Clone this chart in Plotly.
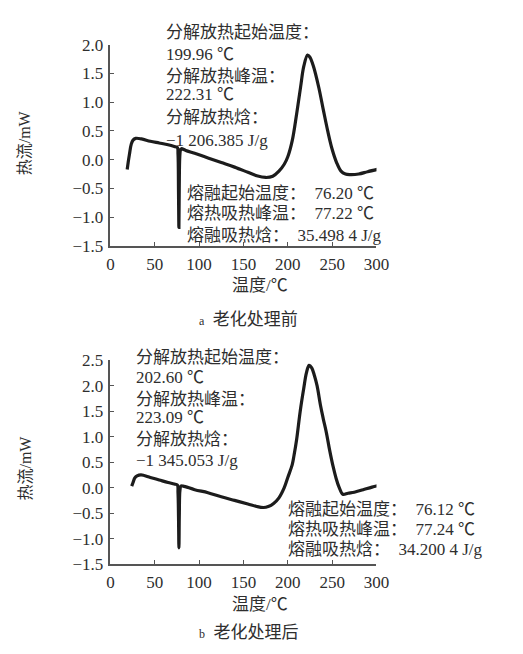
import plotly.graph_objects as go

# ---------------- data ----------------
temp_a = [18.9, 20, 21.5, 23.5, 25.5, 28.5, 35, 45, 55, 65, 72, 75.5, 76.2, 76.8, 77.22,
          77.6, 78.2, 79, 80, 85, 95, 110, 125, 140, 155, 165, 175, 183, 190, 196, 200,
          205, 210, 214.5, 218, 222.3, 225, 229, 235, 240, 245, 250, 255, 260, 265, 270,
          280, 290, 301]
flow_a = [-0.17, -0.05, 0.1, 0.27, 0.34, 0.37, 0.36, 0.32, 0.29, 0.26, 0.23, 0.21, 0.1,
          -0.6, -1.18, -0.5, 0.05, 0.17, 0.19, 0.16, 0.11, 0.03, -0.05, -0.13, -0.22,
          -0.28, -0.31, -0.29, -0.2, -0.08, 0.05, 0.33, 0.8, 1.27, 1.62, 1.82, 1.78, 1.62,
          1.25, 0.87, 0.5, 0.18, -0.05, -0.2, -0.25, -0.26, -0.25, -0.21, -0.17]

temp_b = [24, 25.5, 27.5, 30, 34.5, 45, 55, 65, 72, 75.5, 76.2, 76.8, 77.24, 77.7, 78.4,
          79.5, 82, 95, 110, 125, 140, 155, 165, 172.7, 178, 184, 190, 196, 200, 205, 207,
          210, 214, 218, 221, 224, 227, 230, 233, 237, 240, 243.6, 247, 251, 254.5, 258,
          262, 268, 275, 285, 295, 302]
flow_b = [0.03, 0.1, 0.19, 0.23, 0.25, 0.2, 0.15, 0.1, 0.07, 0.05, -0.1, -0.6, -1.18, -0.5,
          -0.05, 0.03, 0.03, -0.04, -0.1, -0.18, -0.25, -0.32, -0.37, -0.39, -0.37, -0.31,
          -0.2, 0.0, 0.2, 0.45, 0.63, 0.95, 1.5, 1.95, 2.25, 2.4, 2.35, 2.2, 2.0, 1.6, 1.35,
          1.07, 0.75, 0.42, 0.18, 0.0, -0.13, -0.11, -0.09, -0.04, 0.01, 0.04]

x_ticks = [0, 50, 100, 150, 200, 250, 300]
y_ticks_a = [-1.5, -1.0, -0.5, 0.0, 0.5, 1.0, 1.5, 2.0]
y_ticks_b = [-1.5, -1.0, -0.5, 0.0, 0.5, 1.0, 1.5, 2.0, 2.5]

x_title = "温度/℃"
y_title = "热流/mW"
sub_a = "<span style='font-size:12px'>a</span>  老化处理前"
sub_b = "<span style='font-size:12px'>b</span>  老化处理后"

notes_a_top = ["分解放热起始温度：", "199.96 ℃", "分解放热峰温：", "222.31 ℃",
               "分解放热焓：", "−1 206.385 J/g"]
notes_a_low = ["熔融起始温度：  76.20 ℃", "熔热吸热峰温：  77.22 ℃", "熔融吸热焓：  35.498 4 J/g"]
notes_b_top = ["分解放热起始温度：", "202.60 ℃", "分解放热峰温：", "223.09 ℃",
               "分解放热焓：", "−1 345.053 J/g"]
notes_b_low = ["熔融起始温度：  76.12 ℃", "熔热吸热峰温：  77.24 ℃", "熔融吸热焓：  34.200 4 J/g"]

# ---------------- layout helpers ----------------
W, H = 523, 654
FONT = "Liberation Serif, Noto Sans CJK SC, serif"
TXT = "#2e2e2e"
LINE = "#1c1c1c"

def px(x):
    return x / W

def py(y):
    return 1 - y / H

fig = go.Figure()
fig.add_trace(go.Scatter(x=temp_a, y=flow_a, mode="lines", xaxis="x", yaxis="y",
                         line=dict(color=LINE, width=3.2), line_shape="spline",
                         showlegend=False, hoverinfo="skip"))
fig.add_trace(go.Scatter(x=temp_b, y=flow_b, mode="lines", xaxis="x2", yaxis="y2",
                         line=dict(color=LINE, width=3.2), line_shape="spline",
                         showlegend=False, hoverinfo="skip"))

axis_common = dict(showline=True, linecolor="#555555", linewidth=1.5, ticks="inside",
                   ticklen=4, tickcolor="#555555", showgrid=False, zeroline=False,
                   tickfont=dict(family=FONT, size=17, color=TXT), mirror=False)

xdom = [px(110), px(385)]
fig.update_layout(
    width=W, height=H, margin=dict(l=0, r=0, t=0, b=0),
    paper_bgcolor="white", plot_bgcolor="white",
    font=dict(family=FONT, color=TXT),
    xaxis=dict(domain=xdom, range=[0, 300], tickvals=x_ticks, anchor="y",
               ticklabelstandoff=2, **axis_common),
    yaxis=dict(domain=[py(244), py(36.7)], range=[-1.5, 2.0], tickvals=y_ticks_a,
               tickformat=".1f", anchor="x", ticklabelstandoff=2, **axis_common),
    xaxis2=dict(domain=xdom, range=[0, 300], tickvals=x_ticks, anchor="y2",
                ticklabelstandoff=2, **axis_common),
    yaxis2=dict(domain=[py(571.7), py(361.7)], range=[-1.5, 2.5], tickvals=y_ticks_b,
                tickformat=".1f", anchor="x2", ticklabelstandoff=2, **axis_common),
)

ann = []

def add_text(text, x, y, size=17, xanchor="left", angle=0):
    ann.append(dict(text=text, x=px(x), y=py(y), xref="paper", yref="paper",
                    xanchor=xanchor, yanchor="middle", showarrow=False, textangle=angle,
                    font=dict(family=FONT, size=size, color=TXT)))

for t, yy in zip(notes_a_top, [24, 46.7, 70, 88.3, 111.7, 135]):
    add_text(t, 165, yy)
for t, yy in zip(notes_a_low, [190, 210.7, 233.3]):
    add_text(t, 187, yy)
for t, yy in zip(notes_b_top, [359.3, 380, 401.7, 420.7, 443.3, 465]):
    add_text(t, 134, yy)
for t, yy in zip(notes_b_low, [515, 535.7, 556.7]):
    add_text(t, 291, yy)

add_text(y_title, 22, 138, size=16, xanchor="center", angle=-90)
add_text(y_title, 22, 473, size=16, xanchor="center", angle=-90)
add_text(x_title, 265, 285, size=17, xanchor="center")
add_text(x_title, 265, 613, size=17, xanchor="center")
add_text(sub_a, 253, 320, size=17, xanchor="center")
add_text(sub_b, 253, 642, size=17, xanchor="center")

fig.update_layout(annotations=ann)
fig.write_html("out.html")
